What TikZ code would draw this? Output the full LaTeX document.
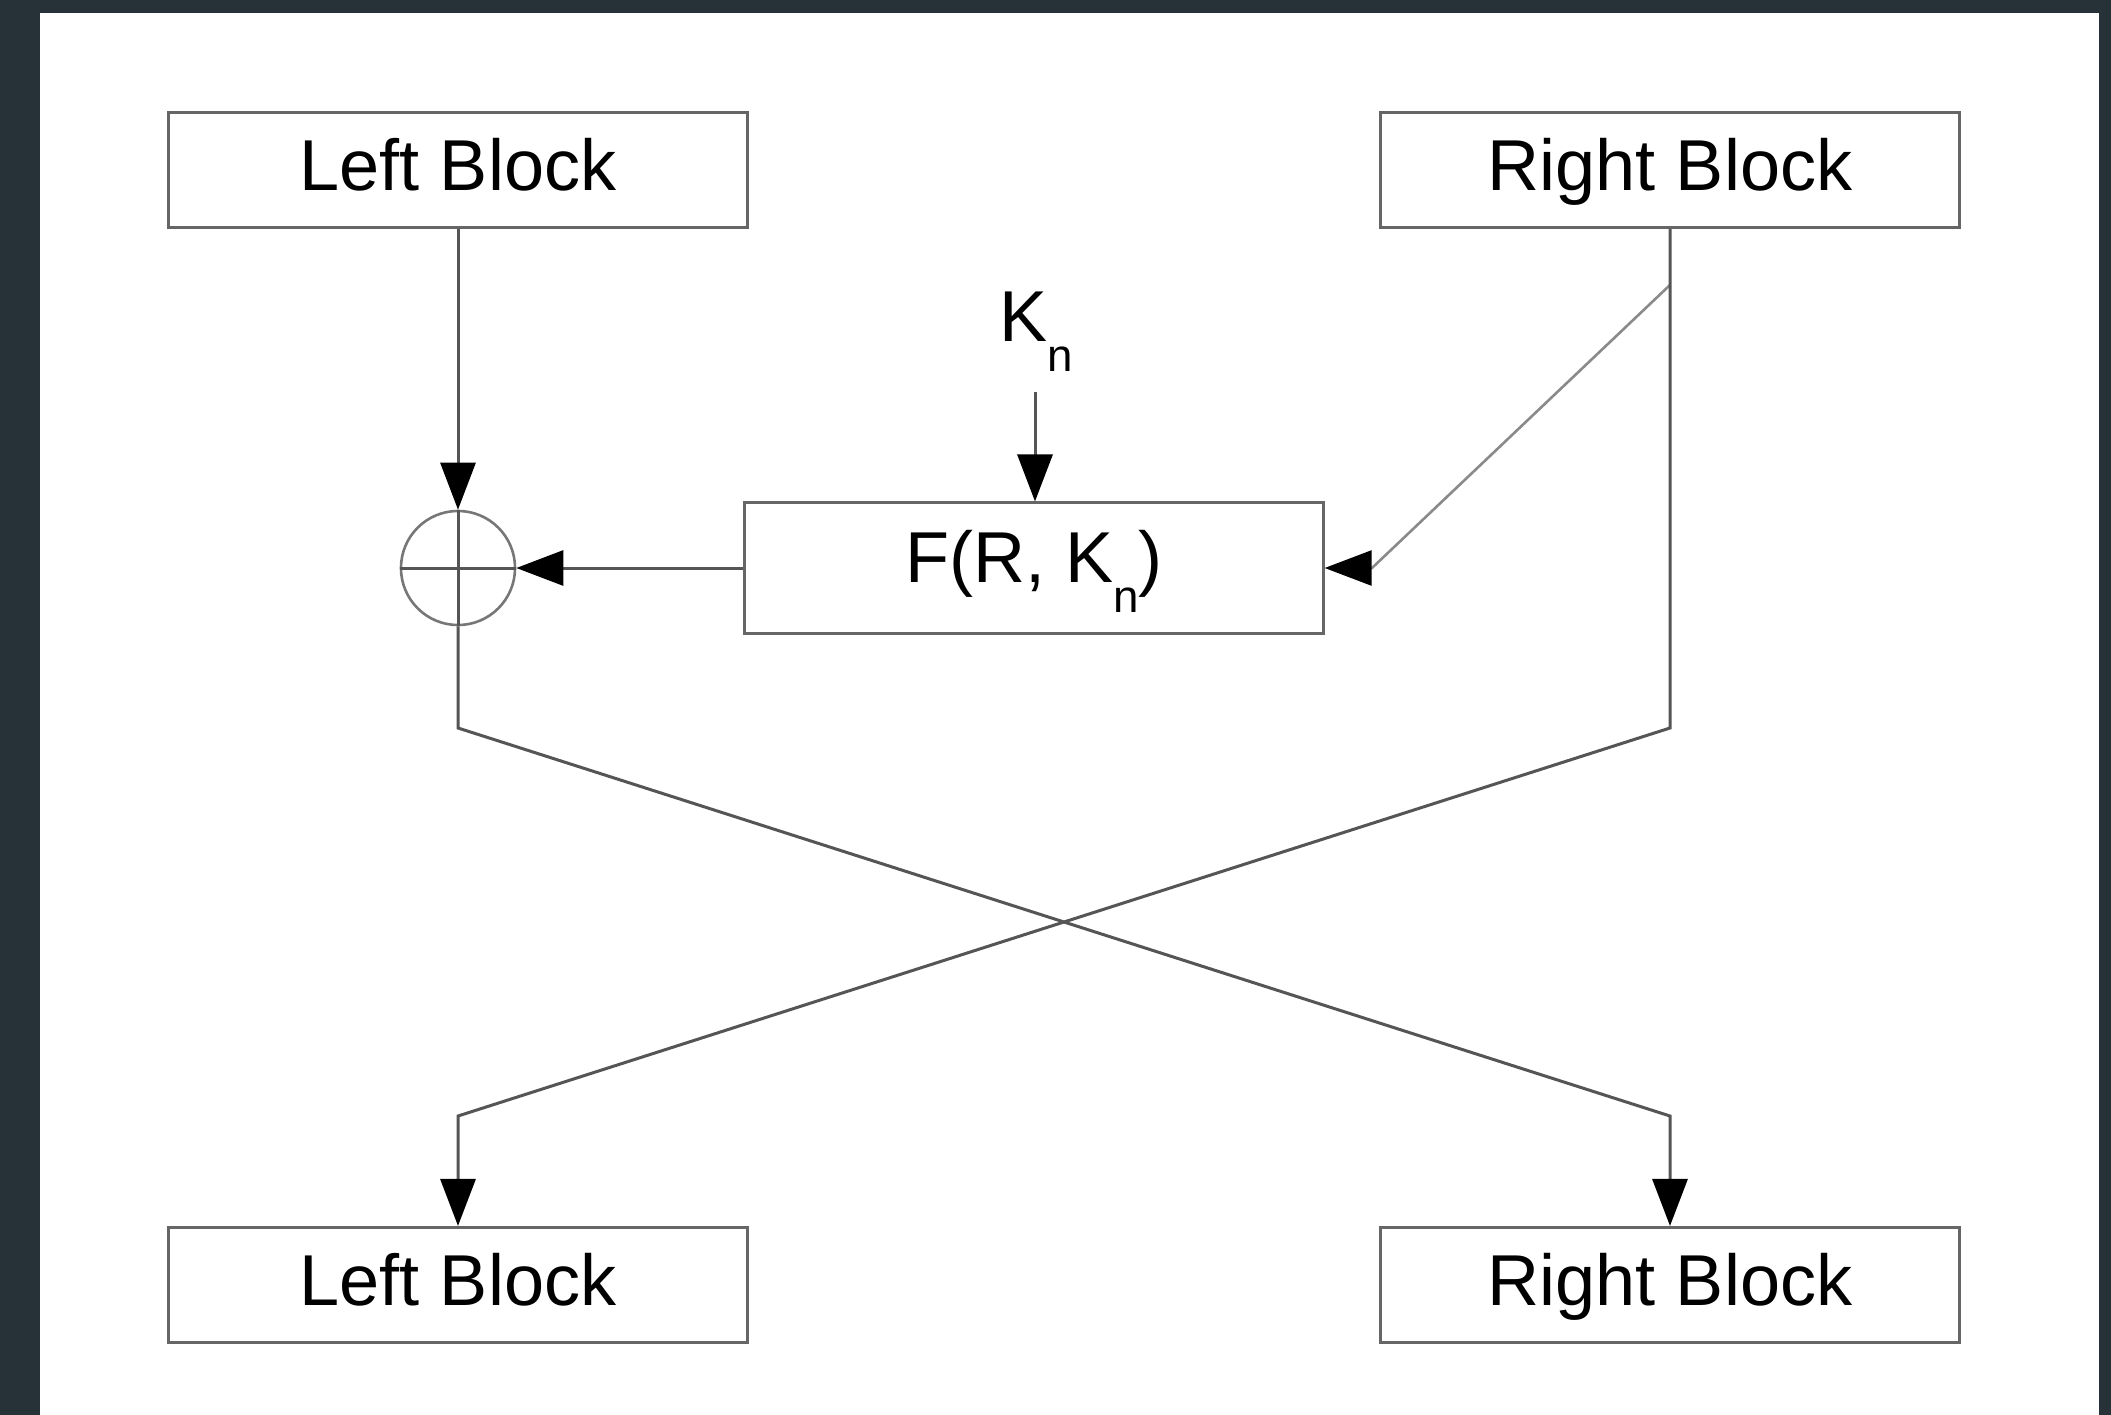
\documentclass[tikz,border=0pt]{standalone}
\usepackage{fontspec}
\setmainfont{Liberation Sans}
\usetikzlibrary{arrows.meta}
\definecolor{bgdark}{HTML}{263238}
\definecolor{linegray}{HTML}{555555}
\definecolor{boxgray}{HTML}{666666}
\definecolor{diaggray}{HTML}{8A8A8A}
\newcommand{\subn}{\raisebox{-0.30cm}{\fontsize{13}{13}\selectfont n}}
\begin{document}
\begin{tikzpicture}[x=0.01cm,y=-0.01cm,
  blockbox/.style={draw=boxgray, line width=0.03cm, minimum width=5.79cm, minimum height=1.15cm,
    inner sep=0pt, text height=0.55cm, text depth=0.15cm, font=\fontsize{20.5}{24}\selectfont},
  fbox/.style={blockbox, minimum width=5.78cm, minimum height=1.30cm, text depth=0.27cm},
  xorbox/.style={circle, draw=linegray!80, line width=0.026cm, minimum size=1.14cm, inner sep=0pt},
  conn/.style={draw=linegray, line width=0.03cm},
  arr/.style={conn, -{Triangle[length=0.47cm,width=0.35cm,color=black]}},
  diag/.style={draw=diaggray, line width=0.026cm, -{Triangle[length=0.47cm,width=0.35cm,color=black]}},
]
\useasboundingbox (0,0) rectangle (2111,1415);
\fill[bgdark] (0,0) rectangle (2111,1415);
\fill[white] (40,13) rectangle (2099,1415);

\node[blockbox] (lt) at (458,170) {Left Block};
\node[blockbox] (rt) at (1670,170) {Right Block};
\node[blockbox] (lb) at (458,1285) {Left Block};
\node[blockbox] (rb) at (1670,1285) {Right Block};
\node[fbox] (f) at (1034,568) {F(R, K\subn)};
\node[xorbox] (xor) at (458,568) {};
\node[anchor=base west, inner sep=0pt, font=\fontsize{20.5}{24}\selectfont] (kn) at (999,341) {K\subn};

\coordinate (ktop) at (1035,392);
\coordinate (rtap) at (1670,285);
\coordinate (dbend) at (1372,568);
\coordinate (lbend1) at (458,728);
\coordinate (rbend1) at (1670,728);
\coordinate (lbend2) at (458,1116);
\coordinate (rbend2) at (1670,1116);

% XOR cross
\draw[conn] (xor.north) -- (xor.south);
\draw[conn] (xor.west) -- (xor.east);

\draw[arr] (lt.south) -- (xor.north);
\draw[arr] (ktop) -- (ktop |- f.north);
\draw[arr] (f.west) -- (xor.east);
\draw[diag] (rtap) -- (dbend) -- (f.east);

\draw[arr] (xor.south) -- (lbend1) -- (rbend2) -- (rb.north);
\draw[arr] (rt.south) -- (rbend1) -- (lbend2) -- (lb.north);
\end{tikzpicture}
\end{document}
